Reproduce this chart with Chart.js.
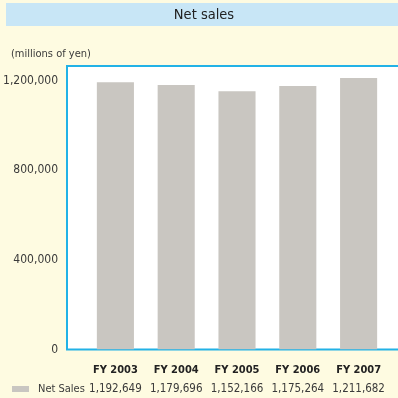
<!DOCTYPE html>
<html>
<head>
<meta charset="utf-8">
<script src="https://cdn.jsdelivr.net/npm/chart.js@4/dist/chart.umd.min.js"></script>
<style>
  html, body { margin: 0; padding: 0; background: #fefbe1; }
  #wrap { width: 398px; height: 398px; }
</style>
</head>
<body>
<div id="wrap"><canvas id="salesChart" width="398" height="398"></canvas></div>
<script>
const fiscalYears = ['FY 2003', 'FY 2004', 'FY 2005', 'FY 2006', 'FY 2007'];
const netSales = [1192649, 1179696, 1152166, 1175264, 1211682];
const yTicks = [0, 400000, 800000, 1200000];

const NARROW = "'Liberation Sans Narrow', 'DejaVu Sans Condensed', sans-serif";
const BAR_COLOR = '#c9c6c1';
const FRAME_BLUE = '#22b2e6';
const fmt = v => v.toLocaleString('en-US');

// page furniture: title band, unit note, white plot box, table row label
const decorPlugin = {
    id: 'decor',
    beforeDraw(chart) {
        const { ctx, chartArea } = chart;
        ctx.save();
        ctx.fillStyle = '#fefbe1';
        ctx.fillRect(0, 0, chart.width, chart.height);

        ctx.fillStyle = '#c8e6f6';
        ctx.fillRect(6, 3, chart.width - 6, 23);
        ctx.fillStyle = '#222222';
        ctx.font = "14.5px " + NARROW;
        ctx.textAlign = 'center';
        ctx.textBaseline = 'middle';
        ctx.fillText('Net sales', 204, 15);

        ctx.fillStyle = '#3a3a3a';
        ctx.font = "11px " + NARROW;
        ctx.textAlign = 'left';
        ctx.fillText('(millions of yen)', 11, 54);

        const left = 67, top = chartArea.top, bottom = chartArea.bottom;
        ctx.fillStyle = '#ffffff';
        ctx.fillRect(left, top, chart.width - left, bottom - top);
        ctx.strokeStyle = FRAME_BLUE;
        ctx.lineWidth = 2;
        ctx.beginPath();
        ctx.moveTo(chart.width, top);
        ctx.lineTo(left, top);
        ctx.lineTo(left, bottom);
        ctx.lineTo(chart.width, bottom);
        ctx.stroke();
        ctx.restore();
    },
    afterDraw(chart) {
        const { ctx } = chart;
        ctx.save();
        ctx.fillStyle = chart.data.datasets[0].backgroundColor;
        ctx.fillRect(12, 386, 17, 6);
        ctx.fillStyle = '#3a3a3a';
        ctx.font = "11px " + NARROW;
        ctx.textAlign = 'left';
        ctx.textBaseline = 'middle';
        ctx.fillText(chart.data.datasets[0].label, 38, 389);
        ctx.restore();
    }
};

new Chart(document.getElementById('salesChart'), {
    type: 'bar',
    data: {
        labels: fiscalYears,
        datasets: [{
            label: 'Net Sales',
            data: netSales,
            backgroundColor: BAR_COLOR,
            barPercentage: 0.61,
            categoryPercentage: 1
        }]
    },
    options: {
        responsive: false,
        animation: false,
        devicePixelRatio: 1,
        layout: { padding: { top: 66, right: 9, left: 0, bottom: 0 } },
        plugins: { legend: { display: false }, tooltip: { enabled: false } },
        scales: {
            y: {
                min: 0,
                max: 1265000,
                afterBuildTicks: scale => { scale.ticks = yTicks.map(v => ({ value: v })); },
                afterFit: scale => { scale.width = 85; },
                grid: { display: false, drawTicks: false },
                border: { display: false },
                ticks: {
                    padding: 27,
                    color: '#3a3a3a',
                    font: { family: NARROW, size: 12 },
                    callback: v => fmt(v)
                }
            },
            x: {
                weight: 1,
                afterFit: scale => { scale.height = 27; },
                grid: { display: false, drawTicks: false },
                border: { display: false },
                ticks: {
                    padding: 14,
                    autoSkip: false,
                    minRotation: 0,
                    maxRotation: 0,
                    color: '#222222',
                    font: { family: NARROW, size: 11, weight: 'bold' }
                }
            },
            x2: {
                type: 'category',
                position: 'bottom',
                weight: 2,
                labels: netSales.map(fmt),
                offset: true,
                afterFit: scale => { scale.height = 21.5; },
                grid: { display: false, drawTicks: false },
                border: { display: false },
                ticks: {
                    padding: 6,
                    autoSkip: false,
                    minRotation: 0,
                    maxRotation: 0,
                    color: '#3a3a3a',
                    font: { family: NARROW, size: 11.5 }
                }
            }
        }
    },
    plugins: [decorPlugin]
});
</script>
</body>
</html>
